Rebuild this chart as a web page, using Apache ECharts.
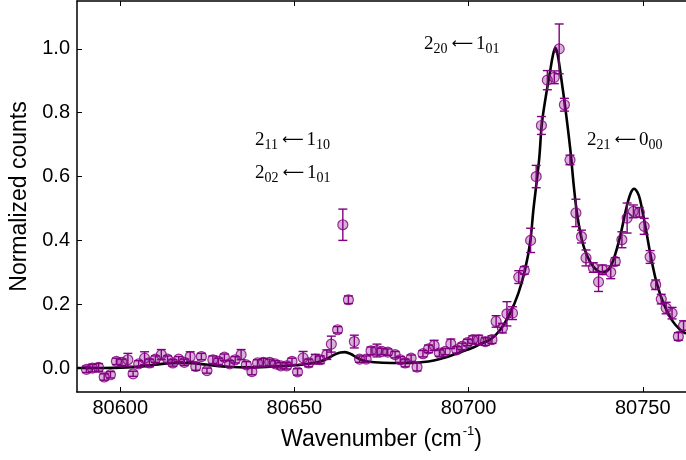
<!DOCTYPE html>
<html>
<head>
<meta charset="utf-8">
<script src="https://cdn.jsdelivr.net/npm/echarts@6/dist/echarts.min.js"></script>
<style>
  html, body { margin: 0; padding: 0; background: #fff; }
  #chart { width: 686px; height: 460px; }
</style>
</head>
<body>
<div id="chart"></div>
<script>
// Measured spectrum: wavenumber (cm^-1), normalized counts and 1-sigma uncertainty
const wavenumber = [
  80590.3, 80592.0, 80593.8, 80595.4, 80597.2, 80598.9, 80600.5, 80602.2, 80603.7, 80605.3,
  80607.0, 80608.4, 80610.1, 80611.8, 80613.6, 80615.1, 80616.8, 80618.4, 80620.1, 80621.7,
  80623.3, 80624.9, 80626.6, 80628.2, 80629.9, 80631.4, 80633.0, 80634.7, 80636.2, 80637.8,
  80639.4, 80641.1, 80642.9, 80644.5, 80646.1, 80647.8, 80649.3, 80650.9, 80652.5, 80654.1,
  80656.0, 80657.4, 80659.3, 80660.6, 80662.4, 80663.9, 80665.5, 80667.2, 80668.7, 80670.6,
  80672.0, 80673.7, 80675.1, 80676.8, 80678.9, 80680.4, 80681.8, 80683.5, 80685.2, 80686.9,
  80688.5, 80690.1, 80691.6, 80693.3, 80694.9, 80696.6, 80698.1, 80699.7, 80701.2, 80702.9,
  80704.8, 80706.7, 80707.9, 80709.7, 80711.0, 80712.6, 80714.4, 80716.0, 80717.8, 80719.4,
  80720.9, 80722.6, 80724.6, 80726.0, 80727.5, 80729.1, 80730.8, 80732.4, 80733.7, 80735.8,
  80737.3, 80738.4, 80740.8, 80742.1, 80744.0, 80745.5, 80747.3, 80749.0, 80750.4, 80752.1,
  80753.7, 80755.3, 80756.7, 80758.4, 80760.2, 80761.7
];
const counts = [
  -0.004, 0.000, 0.002, -0.028, -0.021, 0.021, 0.018, 0.026, -0.018, 0.013,
  0.031, 0.016, 0.028, 0.042, 0.028, 0.016, 0.028, 0.018, 0.036, 0.005,
  0.036, -0.008, 0.026, 0.021, 0.034, 0.013, 0.026, 0.042, 0.010, -0.011,
  0.016, 0.018, 0.018, 0.013, 0.007, 0.007, 0.021, -0.012, 0.032, 0.016,
  0.028, 0.026, 0.042, 0.075, 0.120, 0.449, 0.214, 0.083, 0.028, 0.028,
  0.054, 0.055, 0.052, 0.050, 0.042, 0.026, 0.016, 0.031, 0.003, 0.045,
  0.060, 0.071, 0.047, 0.052, 0.076, 0.057, 0.068, 0.080, 0.089, 0.088,
  0.083, 0.089, 0.146, 0.125, 0.170, 0.172, 0.285, 0.306, 0.400, 0.600,
  0.760, 0.902, 0.911, 1.000, 0.825, 0.652, 0.486, 0.412, 0.345, 0.315,
  0.270, 0.308, 0.300, 0.334, 0.402, 0.470, 0.491, 0.488, 0.444, 0.348,
  0.261, 0.216, 0.188, 0.172, 0.099, 0.133
];
const countErr = [
  0.010, 0.012, 0.012, 0.010, 0.010, 0.010, 0.010, 0.020, 0.008, 0.010,
  0.020, 0.012, 0.010, 0.016, 0.010, 0.010, 0.008, 0.010, 0.015, 0.012,
  0.010, 0.008, 0.012, 0.010, 0.010, 0.010, 0.010, 0.016, 0.010, 0.010,
  0.010, 0.012, 0.010, 0.010, 0.010, 0.010, 0.010, 0.010, 0.020, 0.012,
  0.015, 0.012, 0.015, 0.025, 0.010, 0.049, 0.012, 0.020, 0.010, 0.010,
  0.012, 0.020, 0.010, 0.010, 0.010, 0.010, 0.012, 0.010, 0.012, 0.010,
  0.012, 0.016, 0.010, 0.010, 0.015, 0.010, 0.010, 0.010, 0.012, 0.015,
  0.012, 0.012, 0.018, 0.015, 0.038, 0.020, 0.020, 0.012, 0.038, 0.035,
  0.028, 0.030, 0.020, 0.078, 0.020, 0.015, 0.043, 0.020, 0.025, 0.015,
  0.030, 0.015, 0.020, 0.012, 0.025, 0.047, 0.020, 0.015, 0.025, 0.020,
  0.015, 0.015, 0.018, 0.018, 0.012, 0.015
];

// Fitted line profile
const fitWavenumber = [
  80587.6, 80595.0, 80602.0, 80607.0, 80612.0, 80617.0, 80621.0, 80626.0, 80631.0, 80637.0,
  80643.0, 80648.0, 80653.0, 80657.0, 80659.5, 80661.5, 80663.2, 80664.5, 80666.2, 80668.0,
  80670.0, 80673.0, 80678.0, 80683.0, 80687.0, 80690.0, 80693.0, 80696.0, 80699.0, 80701.5,
  80703.3, 80706.2, 80709.1, 80711.9, 80714.3, 80716.2, 80717.7, 80718.6, 80719.5, 80720.3,
  80721.0, 80722.0, 80723.4, 80724.2, 80724.9, 80725.6, 80726.3, 80727.7, 80729.2, 80730.2,
  80731.1, 80732.5, 80733.9, 80735.8, 80738.2, 80740.1, 80741.6, 80743.5, 80745.4, 80746.6,
  80747.5, 80748.4, 80749.2, 80750.9, 80752.3, 80754.0, 80755.9, 80758.3, 80760.7, 80762.4
];
const fitCounts = [
  0.000, 0.000, 0.002, 0.006, 0.013, 0.016, 0.015, 0.009, 0.004, 0.002,
  0.004, 0.007, 0.012, 0.019, 0.030, 0.042, 0.049, 0.050, 0.044, 0.032,
  0.023, 0.018, 0.016, 0.016, 0.019, 0.024, 0.032, 0.043, 0.055, 0.065,
  0.075, 0.089, 0.120, 0.172, 0.235, 0.308, 0.397, 0.496, 0.580, 0.660,
  0.763, 0.840, 0.930, 0.980, 1.003, 0.980, 0.930, 0.820, 0.684, 0.570,
  0.486, 0.402, 0.355, 0.318, 0.300, 0.308, 0.340, 0.413, 0.507, 0.550,
  0.562, 0.552, 0.528, 0.434, 0.350, 0.266, 0.204, 0.151, 0.120, 0.108
];

const xTicks = [80600, 80650, 80700, 80750];
const yTicks = [0.0, 0.2, 0.4, 0.6, 0.8, 1.0];

// Transition labels J'_{Ka Kc} <- J''_{Ka Kc}
const transitions = [
  { upper: ['2', '20'], lower: ['1', '01'], left: 424, baseline: 50 },
  { upper: ['2', '11'], lower: ['1', '10'], left: 255, baseline: 146 },
  { upper: ['2', '02'], lower: ['1', '01'], left: 255, baseline: 179 },
  { upper: ['2', '21'], lower: ['0', '00'], left: 587, baseline: 146 }
];

const X_MIN = 80587.6, X_MAX = 80762.4;
const Y_MIN = -0.075, Y_MAX = 1.15;
const PURPLE = '#800080';

const chart = echarts.init(document.getElementById('chart'), null, { renderer: 'canvas' });

const points = wavenumber.map((x, i) => [x, counts[i], countErr[i]]);
const fitLine = fitWavenumber.map((x, i) => [x, fitCounts[i]]);

// Lay out a transition label as a row of text pieces (main, subscript, arrow)
const measureCtx = document.createElement('canvas').getContext('2d');
const SERIF = '"Liberation Serif", "DejaVu Serif", serif';
const PIECE = {
  main:  { font: '19px ' + SERIF, mid: -6.3, gapAfter: 0 },
  sub:   { font: '14px ' + SERIF, mid: -0.3, gapAfter: 0 },
  arrow: { font: '15px "DejaVu Sans", sans-serif', mid: -5.5, gapAfter: 3 }
};
function mathLabel(t) {
  const seq = [
    ['main', t.upper[0]], ['sub', t.upper[1]], ['gap', 4], ['arrow', '\u27F5'],
    ['main', t.lower[0]], ['sub', t.lower[1]]
  ];
  const children = [];
  let x = t.left;
  seq.forEach(([kind, txt]) => {
    if (kind === 'gap') { x += txt; return; }
    const p = PIECE[kind];
    measureCtx.font = p.font;
    children.push({
      type: 'text', x: x, y: t.baseline + p.mid,
      style: { text: txt, font: p.font, fill: '#000', align: 'left', verticalAlign: 'middle' }
    });
    x += measureCtx.measureText(txt).width + p.gapAfter;
  });
  return { type: 'group', children: children, z: 10 };
}

const tickStyle = { show: true, inside: true, length: 5, lineStyle: { color: '#000', width: 1 } };
const axisLine = { show: true, onZero: false, lineStyle: { color: '#000', width: 1.5 } };
const SANS = '"Liberation Sans", Arial, sans-serif';

chart.setOption({
  animation: false,
  backgroundColor: '#fff',
  grid: { left: 77, right: 0, top: 1, bottom: 68, containLabel: false },
  xAxis: [
    {
      type: 'value', position: 'bottom', min: X_MIN, max: X_MAX,
      axisLine: axisLine,
      axisTick: Object.assign({ customValues: xTicks }, tickStyle),
      axisLabel: { customValues: xTicks, margin: 6, color: '#000', fontSize: 20, fontFamily: SANS,
                   formatter: v => String(Math.round(v)) },
      splitLine: { show: false },
      name: '{a|Wavenumber (cm}{b|-1}{a|)}',
      nameLocation: 'middle', nameGap: 33,
      nameTextStyle: {
        rich: {
          a: { fontSize: 23, fontFamily: SANS, color: '#000', lineHeight: 26, verticalAlign: 'bottom' },
          b: { fontSize: 13, fontFamily: SANS, color: '#000', lineHeight: 13, verticalAlign: 'top', padding: [0, 0, 10, 1] }
        }
      }
    },
    {
      type: 'value', position: 'top', min: X_MIN, max: X_MAX,
      axisLine: axisLine,
      axisTick: Object.assign({ customValues: xTicks }, tickStyle),
      axisLabel: { show: false },
      splitLine: { show: false }
    }
  ],
  yAxis: {
    type: 'value', min: Y_MIN, max: Y_MAX,
    axisLine: axisLine,
    axisTick: Object.assign({ customValues: yTicks }, tickStyle),
    axisLabel: { customValues: yTicks, margin: 7, color: '#000', fontSize: 20, fontFamily: SANS,
                 formatter: v => v.toFixed(1) },
    splitLine: { show: false },
    name: 'Normalized counts',
    nameLocation: 'middle', nameGap: 38,
    nameTextStyle: { fontSize: 23, fontFamily: SANS, color: '#000' }
  },
  graphic: transitions.map(mathLabel),
  series: [
    {
      name: 'fit', type: 'line', data: fitLine, xAxisIndex: 0,
      showSymbol: false, smooth: 0.35, clip: true, z: 2,
      lineStyle: { color: '#000', width: 2.6 }
    },
    {
      name: 'error', type: 'custom', data: points, xAxisIndex: 0, clip: true, z: 3,
      encode: { x: 0, y: 1 },
      renderItem: function (params, api) {
        const x = api.value(0), y = api.value(1), e = api.value(2);
        const hi = api.coord([x, y + e]);
        const lo = api.coord([x, y - e]);
        const hw = 4.5;
        const st = { stroke: PURPLE, lineWidth: 1.4 };
        return {
          type: 'group',
          children: [
            { type: 'line', shape: { x1: hi[0], y1: hi[1], x2: lo[0], y2: lo[1] }, style: st },
            { type: 'line', shape: { x1: hi[0] - hw, y1: hi[1], x2: hi[0] + hw, y2: hi[1] }, style: st },
            { type: 'line', shape: { x1: lo[0] - hw, y1: lo[1], x2: lo[0] + hw, y2: lo[1] }, style: st }
          ]
        };
      }
    },
    {
      name: 'data', type: 'scatter', data: points.map(p => [p[0], p[1]]), xAxisIndex: 0,
      symbol: 'circle', symbolSize: 10, clip: true, z: 4,
      itemStyle: { color: 'rgba(128,0,128,0.38)', borderColor: PURPLE, borderWidth: 1.2 }
    }
  ]
});
</script>
</body>
</html>
